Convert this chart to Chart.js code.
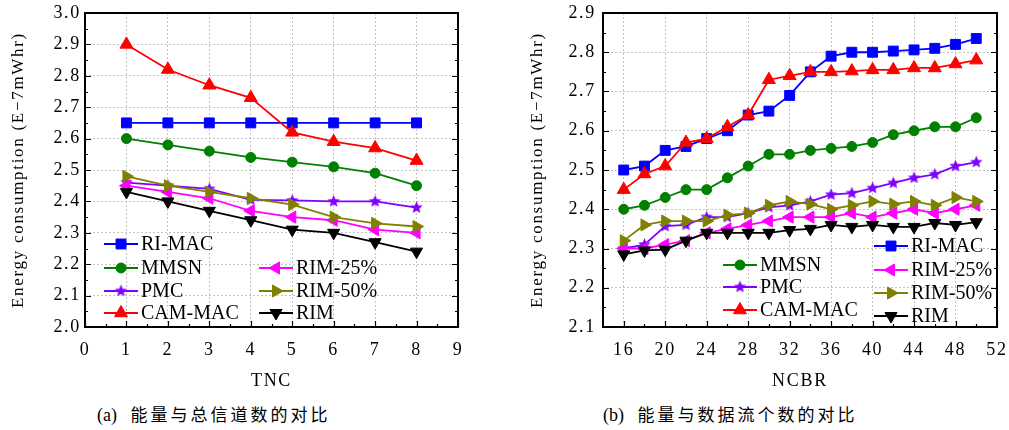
<!DOCTYPE html>
<html>
<head>
<meta charset="utf-8">
<script src="https://cdn.jsdelivr.net/npm/chart.js@4.4.1/dist/chart.umd.min.js"></script>
<style>
  body { margin: 0; background: #fff; width: 1009px; height: 430px; position: relative; overflow: hidden; }
  canvas { position: absolute; top: 0; }
  #chartA { left: 0; }
  #chartB { left: 500px; }
  .caption { position: absolute; top: 405px; line-height: 20px; font-size: 17px; letter-spacing: 3px;
             font-family: 'Liberation Serif', 'Noto Sans CJK SC', serif; white-space: pre; color: #000; }
  .caption span { letter-spacing: 0; font-size: 18px; }
</style>
</head>
<body>
<canvas id="chartA" width="500" height="395"></canvas>
<canvas id="chartB" width="509" height="395"></canvas>
<div class="caption" style="left:97px"><span>(a)   </span>能量与总信道数的对比</div>
<div class="caption" style="left:603px"><span>(b)   </span>能量与数据流个数的对比</div>
<script>
// series names, in legend order
const seriesNames = ['RI-MAC', 'MMSN', 'PMC', 'CAM-MAC', 'RIM-25%', 'RIM-50%', 'RIM'];

// (a) energy vs. total number of channels
const tncValues = [1, 2, 3, 4, 5, 6, 7, 8];
const tncRiMac  = [2.65, 2.65, 2.65, 2.65, 2.65, 2.65, 2.65, 2.65];
const tncMmsn   = [2.60, 2.58, 2.56, 2.54, 2.525, 2.51, 2.49, 2.45];
const tncPmc    = [2.46, 2.45, 2.44, 2.405, 2.403, 2.40, 2.40, 2.38];
const tncCamMac = [2.90, 2.82, 2.77, 2.73, 2.62, 2.59, 2.57, 2.53];
const tncRim25  = [2.45, 2.43, 2.41, 2.37, 2.35, 2.34, 2.31, 2.30];
const tncRim50  = [2.48, 2.45, 2.43, 2.41, 2.39, 2.35, 2.33, 2.32];
const tncRim    = [2.43, 2.40, 2.37, 2.34, 2.31, 2.30, 2.27, 2.24];

// (b) energy vs. number of data flows
const ncbrValues = [16, 18, 20, 22, 24, 26, 28, 30, 32, 34, 36, 38, 40, 42, 44, 46, 48, 50];
const ncbrTicks  = [16, 20, 24, 28, 32, 36, 40, 44, 48, 52];
const ncbrRiMac  = [2.50, 2.51, 2.55, 2.56, 2.58, 2.60, 2.64, 2.65, 2.69, 2.75, 2.79, 2.80, 2.80, 2.803, 2.806, 2.81, 2.82, 2.835];
const ncbrMmsn   = [2.40, 2.41, 2.43, 2.45, 2.45, 2.48, 2.51, 2.54, 2.54, 2.55, 2.555, 2.56, 2.57, 2.59, 2.60, 2.61, 2.61, 2.633];
const ncbrPmc    = [2.30, 2.31, 2.357, 2.36, 2.38, 2.38, 2.39, 2.405, 2.41, 2.42, 2.437, 2.441, 2.454, 2.467, 2.48, 2.489, 2.51, 2.52];
const ncbrCamMac = [2.45, 2.49, 2.51, 2.57, 2.58, 2.61, 2.64, 2.73, 2.74, 2.75, 2.75, 2.752, 2.755, 2.755, 2.76, 2.76, 2.77, 2.78];
const ncbrRim25  = [2.30, 2.30, 2.31, 2.32, 2.34, 2.35, 2.36, 2.37, 2.38, 2.38, 2.38, 2.39, 2.38, 2.39, 2.40, 2.39, 2.40, 2.41];
const ncbrRim50  = [2.32, 2.36, 2.37, 2.37, 2.37, 2.385, 2.39, 2.41, 2.42, 2.413, 2.40, 2.41, 2.42, 2.413, 2.42, 2.41, 2.43, 2.42];
const ncbrRim    = [2.285, 2.295, 2.297, 2.32, 2.34, 2.34, 2.34, 2.34, 2.347, 2.35, 2.36, 2.355, 2.36, 2.355, 2.355, 2.365, 2.36, 2.367];

Chart.defaults.font.family = "'Liberation Serif', 'Times New Roman', serif";
Chart.defaults.color = '#000';

function starImage(color, r) {
  const c = document.createElement('canvas');
  const s = Math.ceil(r * 2 + 2);
  c.width = s; c.height = s;
  const g = c.getContext('2d');
  g.fillStyle = color;
  g.beginPath();
  for (let i = 0; i < 10; i++) {
    const rad = i % 2 ? r * 0.45 : r;
    const ang = -Math.PI / 2 + i * Math.PI / 5;
    g.lineTo(s / 2 + rad * Math.cos(ang), s / 2 + rad * Math.sin(ang));
  }
  g.closePath();
  g.fill();
  return c;
}

const markers = [
  { color: '#0000ff', style: 'rect', radius: 7, rotation: 0 },
  { color: '#008000', style: 'circle', radius: 5, rotation: 0 },
  { color: '#8000ff', style: starImage('#8000ff', 6.5), radius: 6, rotation: 0 },
  { color: '#ff0000', style: 'triangle', radius: 7.5, rotation: 0 },
  { color: '#ff00ff', style: 'triangle', radius: 7, rotation: -90 },
  { color: '#808000', style: 'triangle', radius: 7, rotation: 90 },
  { color: '#000000', style: 'triangle', radius: 7, rotation: 180 }
];

function makeDatasets(xs, series) {
  return series.map((ys, i) => ({
    label: seriesNames[i],
    data: xs.map((x, j) => ({ x: x, y: ys[j] })),
    borderColor: markers[i].color,
    backgroundColor: markers[i].color,
    borderWidth: 1.8,
    pointStyle: markers[i].style,
    pointRadius: markers[i].radius,
    pointRotation: markers[i].rotation,
    pointBorderWidth: 1,
    pointBorderColor: markers[i].color,
    pointBackgroundColor: markers[i].color,
    order: series.length - i
  }));
}

// frame box plus inward major/minor ticks on left, right and bottom
const frameTicks = {
  id: 'frameTicks',
  beforeLayout(chart) { chart.ctx.letterSpacing = '1.7px'; },
  beforeDraw(chart) { chart.ctx.letterSpacing = '1.7px'; },
  beforeDatasetsDraw(chart) {
    const { ctx, chartArea: a, scales: { x, y } } = chart;
    ctx.save();
    ctx.strokeStyle = '#000';
    ctx.lineWidth = 1.2;
    ctx.beginPath();
    const yv = y.ticks.map(t => t.value);
    yv.forEach((v, i) => {
      const py = Math.round(y.getPixelForValue(v)) + 0.5;
      ctx.moveTo(a.left, py); ctx.lineTo(a.left + 6, py);
      ctx.moveTo(a.right, py); ctx.lineTo(a.right - 6, py);
      if (i < yv.length - 1) {
        const my = Math.round(y.getPixelForValue((v + yv[i + 1]) / 2)) + 0.5;
        ctx.moveTo(a.left, my); ctx.lineTo(a.left + 3, my);
        ctx.moveTo(a.right, my); ctx.lineTo(a.right - 3, my);
      }
    });
    const xv = x.ticks.map(t => t.value);
    xv.forEach((v, i) => {
      const px = Math.round(x.getPixelForValue(v)) + 0.5;
      ctx.moveTo(px, a.bottom); ctx.lineTo(px, a.bottom - 6);
      if (i < xv.length - 1) {
        const mx = Math.round(x.getPixelForValue((v + xv[i + 1]) / 2)) + 0.5;
        ctx.moveTo(mx, a.bottom); ctx.lineTo(mx, a.bottom - 3);
      }
    });
    ctx.stroke();
    ctx.lineWidth = 2;
    ctx.strokeRect(a.left, a.top, a.right - a.left, a.bottom - a.top);
    ctx.restore();
  }
};

// two-column key drawn inside the plot
const seriesKey = {
  id: 'seriesKey',
  afterDraw(chart, args, opts) {
    const ctx = chart.ctx;
    ctx.save();
    ctx.letterSpacing = '0px';
    ctx.font = "20px 'Liberation Serif', serif";
    ctx.textBaseline = 'middle';
    ctx.textAlign = 'left';
    opts.spots.forEach((p, i) => {
      const m = markers[i];
      ctx.strokeStyle = m.color;
      ctx.fillStyle = m.color;
      ctx.lineWidth = 1.8;
      ctx.beginPath();
      ctx.moveTo(p[0] - 17, p[1]);
      ctx.lineTo(p[0] + 17, p[1]);
      ctx.stroke();
      ctx.lineWidth = 1;
      Chart.helpers.drawPoint(ctx, { pointStyle: m.style, radius: m.radius, rotation: m.rotation, borderWidth: 1 }, p[0], p[1]);
      ctx.fillStyle = '#000';
      ctx.fillText(seriesNames[i], p[0] + 20, p[1] + 1);
    });
    ctx.restore();
  }
};

function buildChart(id, cfg) {
  return new Chart(document.getElementById(id), {
    type: 'line',
    data: { datasets: cfg.datasets },
    plugins: [frameTicks, seriesKey],
    options: {
      responsive: false,
      animation: false,
      events: [],
      layout: { padding: { top: 13, right: cfg.padRight, bottom: 0, left: 0 } },
      plugins: {
        legend: { display: false },
        tooltip: { enabled: false },
        seriesKey: { spots: cfg.spots }
      },
      scales: {
        x: {
          type: 'linear',
          min: cfg.xMin,
          max: cfg.xMax,
          afterBuildTicks: cfg.xTicks ? (s) => { s.ticks = cfg.xTicks.map(v => ({ value: v })); } : undefined,
          afterFit(s) { s.height = 68; s.paddingLeft = 0; s.paddingRight = 0; },
          grid: { color: '#c4c4c4', lineWidth: 1, drawTicks: false },
          border: { display: false, dash: [2, 2] },
          ticks: { stepSize: cfg.xStep, padding: 12, font: { size: 18 }, maxRotation: 0 },
          title: { display: true, text: cfg.xTitle, font: { size: 18 }, padding: { top: 0, bottom: 3 } }
        },
        y: {
          min: cfg.yMin,
          max: cfg.yMax,
          afterFit(s) { s.width = cfg.yWidth; s.paddingTop = 0; s.paddingBottom = 0; },
          grid: { color: '#c4c4c4', lineWidth: 1, drawTicks: false },
          border: { display: false, dash: [2, 2] },
          ticks: { stepSize: 0.1, padding: cfg.yPad, font: { size: 18 }, callback: v => v.toFixed(1) },
          title: { display: true, text: 'Energy consumption (E\u22127mWhr)', font: { size: 17 }, padding: { top: cfg.yTitlePad, bottom: 0 } }
        }
      }
    }
  });
}

buildChart('chartA', {
  datasets: makeDatasets(tncValues, [tncRiMac, tncMmsn, tncPmc, tncCamMac, tncRim25, tncRim50, tncRim]),
  xMin: 0, xMax: 9, xStep: 1, xTitle: 'TNC',
  yMin: 2.0, yMax: 3.0, yWidth: 85, yPad: 4, yTitlePad: 8, padRight: 42,
  spots: [[121, 244], [121, 268], [121, 291], [121, 313], [276, 268], [276, 291], [276, 313]]
});

buildChart('chartB', {
  datasets: makeDatasets(ncbrValues, [ncbrRiMac, ncbrMmsn, ncbrPmc, ncbrCamMac, ncbrRim25, ncbrRim50, ncbrRim]),
  xMin: 14, xMax: 52, xTicks: ncbrTicks, xTitle: 'NCBR',
  yMin: 2.1, yMax: 2.9, yWidth: 103, yPad: 7, yTitlePad: 27, padRight: 12,
  spots: [[391, 246], [240, 265], [240, 287], [240, 310], [391, 270], [391, 293], [391, 316]]
});
</script>
</body>
</html>
